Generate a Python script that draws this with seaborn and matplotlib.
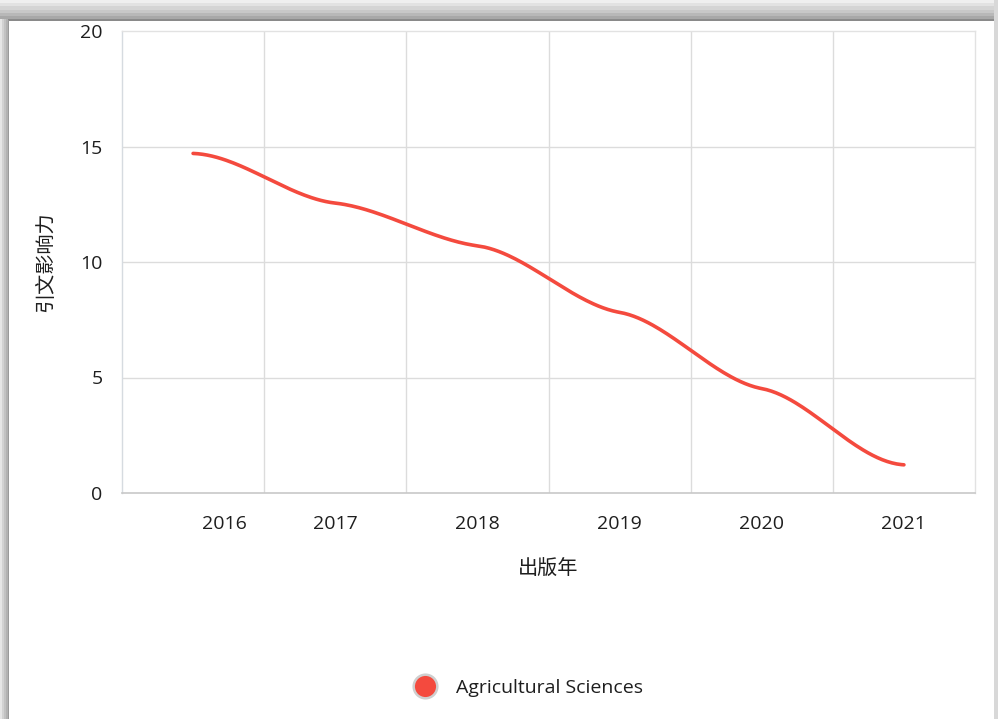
import numpy as np
import pandas as pd
import matplotlib
matplotlib.use("Agg")
import matplotlib.pyplot as plt
import matplotlib.transforms as mtransforms
from matplotlib.lines import Line2D
import seaborn as sns

# ---- data ----
years = ["2016", "2017", "2018", "2019", "2020", "2021"]
impact = [14.7, 12.55, 10.7, 7.82, 4.52, 1.22]
series_name = "Agricultural Sciences"
y_ticks = [0, 5, 10, 15, 20]
x_title = "出版年"
y_title = "引文影响力"

LINE_COLOR = "#f44a3e"
TEXT_COLOR = "#1e1e1e"
GRID_COLOR = "#dcdcdc"
FS = 14

sns.set_theme(style="white")
plt.rcParams["font.family"] = ["Open Sans", "Noto Sans CJK SC", "DejaVu Sans"]

fig = plt.figure(figsize=(9.98, 7.19), dpi=100)
fig.patch.set_facecolor("white")

# window-like frame shadow (top and left)
bg = fig.add_axes([0, 0, 1, 1], zorder=-10)
bg.set_xlim(0, 998)
bg.set_ylim(719, 0)
bg.axis("off")
top_cols = ["#efefef", "#e2e2e2", "#d4d4d4", "#c8c8c8", "#b8b8b8", "#a8a8a8"]
for i, c in enumerate(top_cols):
    bg.add_patch(plt.Rectangle((0, i * 3.2), 998, 3.3, color=c, lw=0))
bg.add_patch(plt.Rectangle((0, 19), 998, 1.5, color="#8a8a8a", lw=0))
left_cols = ["#e6e6e6", "#d2d2d2", "#c2c2c2", "#b2b2b2"]
for i, c in enumerate(left_cols):
    bg.add_patch(plt.Rectangle((i * 2, 19), 2.1, 700, color=c, lw=0))
bg.add_patch(plt.Rectangle((8, 20), 1.2, 699, color="#9a9a9a", lw=0))
bg.add_patch(plt.Rectangle((994, 0), 4, 719, color="#d8d8d8", lw=0))

# plot area
ax = fig.add_axes([122 / 998, 226 / 719, 853 / 998, 462 / 719])
ax.set_facecolor("white")

# smooth curve through data points (cubic Hermite with damped tangents)
xs = np.arange(len(years), dtype=float)
ys = np.array(impact, dtype=float)
tang = np.zeros_like(ys)
k = 0.35
for i in range(len(ys)):
    if 0 < i < len(ys) - 1:
        tang[i] = k * (ys[i + 1] - ys[i - 1]) / 2.0
    elif i == 0:
        tang[i] = k * 0.3 * (ys[1] - ys[0])
    else:
        tang[i] = k * 0.3 * (ys[-1] - ys[-2])
cx, cy = [], []
for i in range(len(ys) - 1):
    t = np.linspace(0, 1, 60, endpoint=(i == len(ys) - 2))
    h00 = 2 * t**3 - 3 * t**2 + 1
    h10 = t**3 - 2 * t**2 + t
    h01 = -2 * t**3 + 3 * t**2
    h11 = t**3 - t**2
    cx.extend(xs[i] + t)
    cy.extend(h00 * ys[i] + h10 * tang[i] + h01 * ys[i + 1] + h11 * tang[i + 1])
curve = pd.DataFrame({"x": cx, "y": cy})
sns.lineplot(data=curve, x="x", y="y", ax=ax, color=LINE_COLOR, lw=2.6,
             sort=False, legend=False, zorder=3)

ax.set_xlim(-0.5, len(years) - 0.5)
ax.set_ylim(0, 20)
ax.set_yticks(y_ticks)
ax.set_xticks(xs)
ax.set_xticklabels(years)
ax.grid(False)
for yv in y_ticks[1:-1]:
    ax.axhline(yv, color=GRID_COLOR, lw=1.0, zorder=1)
for xv in xs[:-1] + 0.5:
    ax.axvline(xv, color=GRID_COLOR, lw=1.0, zorder=1)

for side in ["top", "right"]:
    ax.spines[side].set_color("#e2e2e2")
    ax.spines[side].set_linewidth(1.0)
ax.spines["left"].set_color("#d6dbe0")
ax.spines["left"].set_linewidth(1.0)
ax.spines["bottom"].set_color("#c8c8c8")
ax.spines["bottom"].set_linewidth(1.2)

ax.tick_params(axis="both", which="both", length=0, labelsize=FS,
               colors=TEXT_COLOR)
ax.tick_params(axis="y", pad=14)
ax.tick_params(axis="x", pad=16)
# first category label sits a little right of its slot
off = mtransforms.ScaledTranslation(31 / 100, 0, fig.dpi_scale_trans)
lbl0 = ax.get_xticklabels()[0]
lbl0.set_transform(lbl0.get_transform() + off)

ax.set_xlabel(x_title, fontsize=FS + 0.5, color=TEXT_COLOR, labelpad=19)
ax.set_ylabel(y_title, fontsize=FS + 0.5, color=TEXT_COLOR, labelpad=17)

handle = Line2D([], [], marker="o", linestyle="none", markersize=17,
                markerfacecolor=LINE_COLOR, markeredgecolor="#cfcfcf",
                markeredgewidth=1.8)
fig.legend([handle], [series_name], loc="center", bbox_to_anchor=(0.525, 0.043),
           frameon=False, fontsize=FS, handletextpad=0.6,
           labelcolor=TEXT_COLOR)

fig.savefig("out.png", dpi=100)
